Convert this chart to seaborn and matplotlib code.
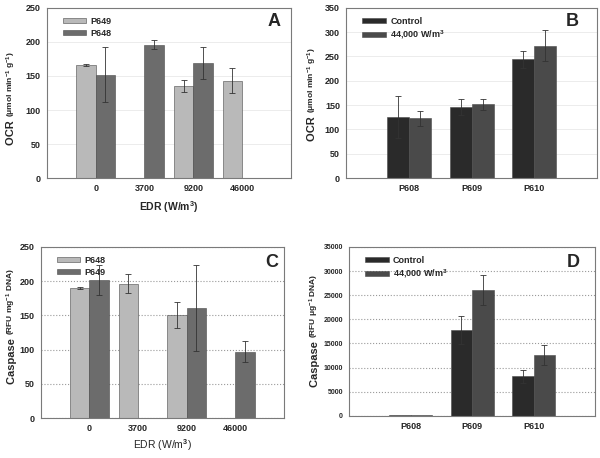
import matplotlib
matplotlib.use('Agg')
import matplotlib.pyplot as plt
from matplotlib.container import BarContainer
import seaborn as sns
import pandas as pd
import numpy as np

# panel A: OCR vs EDR
edr_levels = ['0', '3700', '9200', '46000']
a_p649 = [166, np.nan, 135, 143]
a_p649_err = [2, np.nan, 9, 18]
a_p648 = [152, 196, 169, np.nan]
a_p648_err = [40, 6, 23, np.nan]

# panel B: OCR per strain
strains = ['P608', 'P609', 'P610']
b_ctrl = [125, 146, 244]
b_ctrl_err = [43, 17, 18]
b_edr = [123, 152, 272]
b_edr_err = [15, 11, 32]

# panel C: caspase vs EDR
c_p648 = [190, 196, 150, np.nan]
c_p648_err = [1, 14, 19, np.nan]
c_p649 = [202, np.nan, 161, 97]
c_p649_err = [22, np.nan, 63, 15]

# panel D: caspase per strain
d_ctrl = [150, 17700, 8200]
d_ctrl_err = [np.nan, 2900, 1300]
d_edr = [250, 26100, 12600]
d_edr_err = [np.nan, 3100, 2000]

sns.set_style('white')
plt.rcParams['font.family'] = ['Liberation Sans', 'DejaVu Sans']
plt.rcParams['font.weight'] = 'bold'
plt.rcParams['mathtext.fontset'] = 'custom'
plt.rcParams['mathtext.rm'] = 'Liberation Sans:bold'
plt.rcParams['mathtext.default'] = 'rm'


def draw_panel(ax, cats, names, vals, errs, colors, ylim, step, width, grid):
    df = pd.DataFrame({
        'cat': cats * 2,
        'grp': [names[0]] * len(cats) + [names[1]] * len(cats),
        'val': list(vals[0]) + list(vals[1]),
    })
    sns.barplot(data=df, x='cat', y='val', hue='grp', order=cats, hue_order=names,
                palette=colors, saturation=1, errorbar=None, width=width,
                edgecolor='#4a4a4a', linewidth=0.4, ax=ax, zorder=2)
    # error bars from the drawn bars
    bars = [c for c in ax.containers if isinstance(c, BarContainer)]
    for cont in bars:
        for p in cont.patches:
            h = p.get_height()
            if not np.isfinite(h):
                continue
            xc = p.get_x() + p.get_width() / 2
            i = int(round(xc))
            k = 0 if xc < i else 1
            e = errs[k][i]
            if np.isfinite(e):
                ax.errorbar(xc, h, yerr=e, fmt='none', ecolor='#333333',
                            elinewidth=0.6, capsize=2.3, capthick=0.6, zorder=3)
    ax.set_ylim(*ylim)
    ax.set_yticks(np.arange(ylim[0], ylim[1] + 1, step))
    ax.set_xlim(-1, len(cats))
    ax.set_axisbelow(True)
    if grid == 'dot':
        ax.yaxis.grid(True, color='#9a9a9a', linestyle=':', linewidth=0.8)
    else:
        ax.yaxis.grid(True, color='#ececec', linewidth=0.7)
    for s in ax.spines.values():
        s.set_visible(True)
        s.set_color('#7a7a7a')
        s.set_linewidth(0.8)
    ax.tick_params(axis='both', length=2.5, width=0.6, color='#555555',
                   labelsize=6.5, pad=2)
    ax.set_xlabel('')
    ax.set_ylabel('')


def ylab(ax, big, small, split, xpos, big_size=8, small_size=6):
    ax.text(xpos, split, big + ' ', transform=ax.transAxes, rotation=90,
            rotation_mode='anchor', ha='right', va='center', fontsize=big_size,
            fontweight='bold')
    ax.text(xpos, split, small, transform=ax.transAxes, rotation=90,
            rotation_mode='anchor', ha='left', va='center', fontsize=small_size,
            fontweight='bold')


def legend(ax, labels):
    handles = ax.get_legend_handles_labels()[0]
    ax.legend(handles, labels, loc='upper left', bbox_to_anchor=(0.05, 0.97),
              frameon=False, fontsize=6.5, handlelength=2.6, handleheight=0.45,
              handletextpad=0.5, labelspacing=0.35, borderaxespad=0)


fig = plt.figure(figsize=(6, 4.58), dpi=100)
ax_a = fig.add_axes([0.078, 0.611, 0.407, 0.372])
ax_b = fig.add_axes([0.577, 0.611, 0.418, 0.372])
ax_c = fig.add_axes([0.068, 0.087, 0.405, 0.374])
ax_d = fig.add_axes([0.582, 0.092, 0.410, 0.369])

light, dark = '#b9b9b9', '#6c6c6c'
black, charcoal = '#2a2a2a', '#4a4a4a'

draw_panel(ax_a, edr_levels, ['P649', 'P648'], [a_p649, a_p648],
           [a_p649_err, a_p648_err], [light, dark], (0, 250), 50, 0.8, 'solid')
legend(ax_a, ['P649', 'P648'])
ax_a.text(0.93, 0.92, 'A', transform=ax_a.transAxes, ha='center', va='center',
          fontsize=13, fontweight='bold')
ylab(ax_a, 'OCR', '(μmol min$^{-1}$ g$^{-1}$)', 0.36, -0.145)
ax_a.set_xlabel('EDR (W/m$^3$)', fontsize=7.5, fontweight='bold', labelpad=4)

draw_panel(ax_b, strains, ['Control', '44,000 W/m$^3$'], [b_ctrl, b_edr],
           [b_ctrl_err, b_edr_err], [black, charcoal], (0, 350), 50, 0.7, 'solid')
legend(ax_b, ['Control', '44,000 W/m$^3$'])
ax_b.text(0.9, 0.92, 'B', transform=ax_b.transAxes, ha='center', va='center',
          fontsize=13, fontweight='bold')
ylab(ax_b, 'OCR', '(μmol min$^{-1}$ g$^{-1}$)', 0.38, -0.135)

draw_panel(ax_c, edr_levels, ['P648', 'P649'], [c_p648, c_p649],
           [c_p648_err, c_p649_err], [light, dark], (0, 250), 50, 0.8, 'dot')
legend(ax_c, ['P648', 'P649'])
ax_c.text(0.95, 0.91, 'C', transform=ax_c.transAxes, ha='center', va='center',
          fontsize=13, fontweight='bold')
ylab(ax_c, 'Caspase', '(RFU mg$^{-1}$ DNA)', 0.485, -0.12)
ax_c.set_xlabel('EDR (W/m$^3$)', fontsize=7.5, fontweight='normal', labelpad=3)

draw_panel(ax_d, strains, ['Control', '44,000 W/m$^3$'], [d_ctrl, d_edr],
           [d_ctrl_err, d_edr_err], [black, charcoal], (0, 35000), 5000, 0.7, 'dot')
legend(ax_d, ['Control', '44,000 W/m$^3$'])
ax_d.text(0.91, 0.91, 'D', transform=ax_d.transAxes, ha='center', va='center',
          fontsize=13, fontweight='bold')
ylab(ax_d, 'Caspase', '(RFU μg$^{-1}$ DNA)', 0.46, -0.14)
ax_d.tick_params(axis='y', labelsize=5)

fig.savefig('out.png', dpi=100)
